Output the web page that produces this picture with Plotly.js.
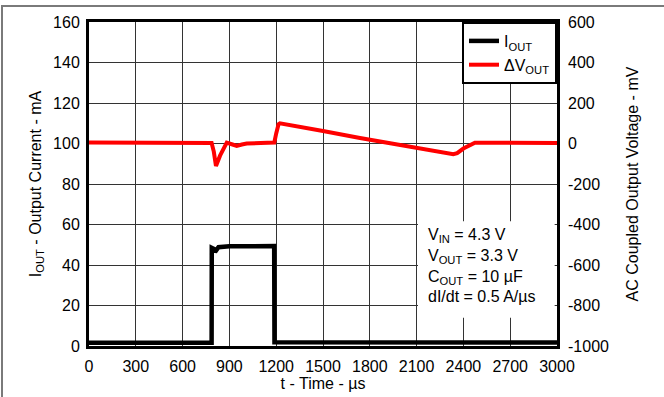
<!DOCTYPE html>
<html>
<head>
<meta charset="utf-8">
<script src="https://cdn.plot.ly/plotly-3.0.1.min.js"></script>
<style>
  html, body { margin: 0; padding: 0; background: #fff; }
  #wrap { position: relative; width: 664px; height: 397px; overflow: hidden; }
  #chart { width: 664px; height: 397px; }
  #frame { position: absolute; left: 1px; top: 5px; width: 700px; height: 500px;
           border-top: 2px solid #7a7a7a; border-left: 2px solid #7a7a7a; pointer-events: none; }
</style>
</head>
<body>
<div id="wrap">
  <div id="chart"></div>
  <div id="frame"></div>
</div>
<script>
// Output current I_OUT (mA) vs time (µs)
const timeI = [0, 400, 786, 787, 800, 808, 830, 900, 1000, 1100, 1187, 1189, 1300, 2000, 3000];
const iOut  = [1.6, 1.6, 1.6, 48.5, 48, 46.5, 48.8, 49.2, 49.3, 49.4, 49.4, 1.8, 1.8, 1.7, 1.7];

// AC coupled output voltage ΔV_OUT (mV) vs time (µs)
const timeV = [0, 400, 760, 786, 800, 814, 840, 883, 920, 947, 980, 1011, 1100, 1188, 1200, 1215, 1224, 1300, 1500, 1737, 1865, 2000, 2200, 2335, 2360, 2400, 2474, 2600, 3000];
const dVOut = [5, 4, 5, 3, -40, -111, -60, 4, -5, -12, -5, 0, 2, 5, 50, 95, 100, 90, 62, 27, 10, -7, -34, -53, -48, -25, 4, 3, 3];

const xTicks  = [0, 300, 600, 900, 1200, 1500, 1800, 2100, 2400, 2700, 3000];
const yTicks  = [0, 20, 40, 60, 80, 100, 120, 140, 160];
const y2Ticks = [-1000, -800, -600, -400, -200, 0, 200, 400, 600];

const noteLines = [
  'V<sub>IN</sub> = 4.3 V',
  'V<sub>OUT</sub> = 3.3 V',
  'C<sub>OUT</sub> = 10 µF',
  'dI/dt = 0.5 A/µs'
];

const FONT = 'Liberation Sans, Arial, sans-serif';

const traces = [
  { x: timeI, y: iOut, type: 'scatter', mode: 'lines', name: 'I<sub>OUT</sub>',
    line: { color: '#000000', width: 4.5 }, yaxis: 'y' },
  { x: timeV, y: dVOut, type: 'scatter', mode: 'lines', name: 'ΔV<sub>OUT</sub>',
    line: { color: '#ff0000', width: 4 }, yaxis: 'y2' }
];

const layout = {
  width: 664, height: 397,
  margin: { l: 89, r: 107, t: 22, b: 51, pad: 0 },
  paper_bgcolor: '#ffffff', plot_bgcolor: '#ffffff',
  font: { family: FONT, size: 16, color: '#000' },
  showlegend: true,
  legend: {
    x: 1, xanchor: 'right', y: 1, yanchor: 'top',
    bgcolor: '#ffffff', bordercolor: '#000', borderwidth: 2,
    font: { family: FONT, size: 16, color: '#000' },
    tracegroupgap: 0, itemwidth: 30
  },
  xaxis: {
    range: [0, 3000], tickvals: xTicks, ticktext: xTicks.map(String),
    showgrid: true, gridcolor: '#333', gridwidth: 1,
    showline: true, linecolor: '#000', linewidth: 3, mirror: true,
    ticks: '', zeroline: false, ticklabelstandoff: 4,
    tickfont: { family: FONT, size: 16 },
    title: { text: 't - Time - µs', font: { family: FONT, size: 16 }, standoff: 4 }
  },
  yaxis: {
    range: [0, 160], tickvals: yTicks, ticktext: yTicks.map(String),
    showgrid: true, gridcolor: '#333', gridwidth: 1,
    showline: true, linecolor: '#000', linewidth: 3, mirror: true,
    ticks: '', zeroline: false, ticklabelstandoff: 3,
    tickfont: { family: FONT, size: 16 },
    title: { text: 'I<sub>OUT</sub> - Output Current - mA', font: { family: FONT, size: 16 }, standoff: 8 }
  },
  yaxis2: {
    range: [-1000, 600], tickvals: y2Ticks, ticktext: y2Ticks.map(String),
    overlaying: 'y', side: 'right',
    showgrid: false, showline: false, ticks: '', zeroline: false, ticklabelstandoff: 10,
    tickfont: { family: FONT, size: 16 },
    title: { text: 'AC Coupled Output Voltage - mV', font: { family: FONT, size: 16 }, standoff: 18 }
  },
  shapes: [
    { type: 'rect', xref: 'paper', yref: 'paper', x0: 0.703, x1: 0.995, y0: 0.087, y1: 0.385,
      fillcolor: '#ffffff', line: { width: 0 }, layer: 'above' }
  ],
  annotations: [
    { xref: 'paper', yref: 'paper', x: 0.72, y: 0.25, xanchor: 'left', yanchor: 'middle',
      text: noteLines.join('<br>'), showarrow: false, align: 'left',
      font: { family: FONT, size: 16, color: '#000' } }
  ]
};

Plotly.newPlot('chart', traces, layout, { displayModeBar: false, staticPlot: true });
</script>
</body>
</html>
